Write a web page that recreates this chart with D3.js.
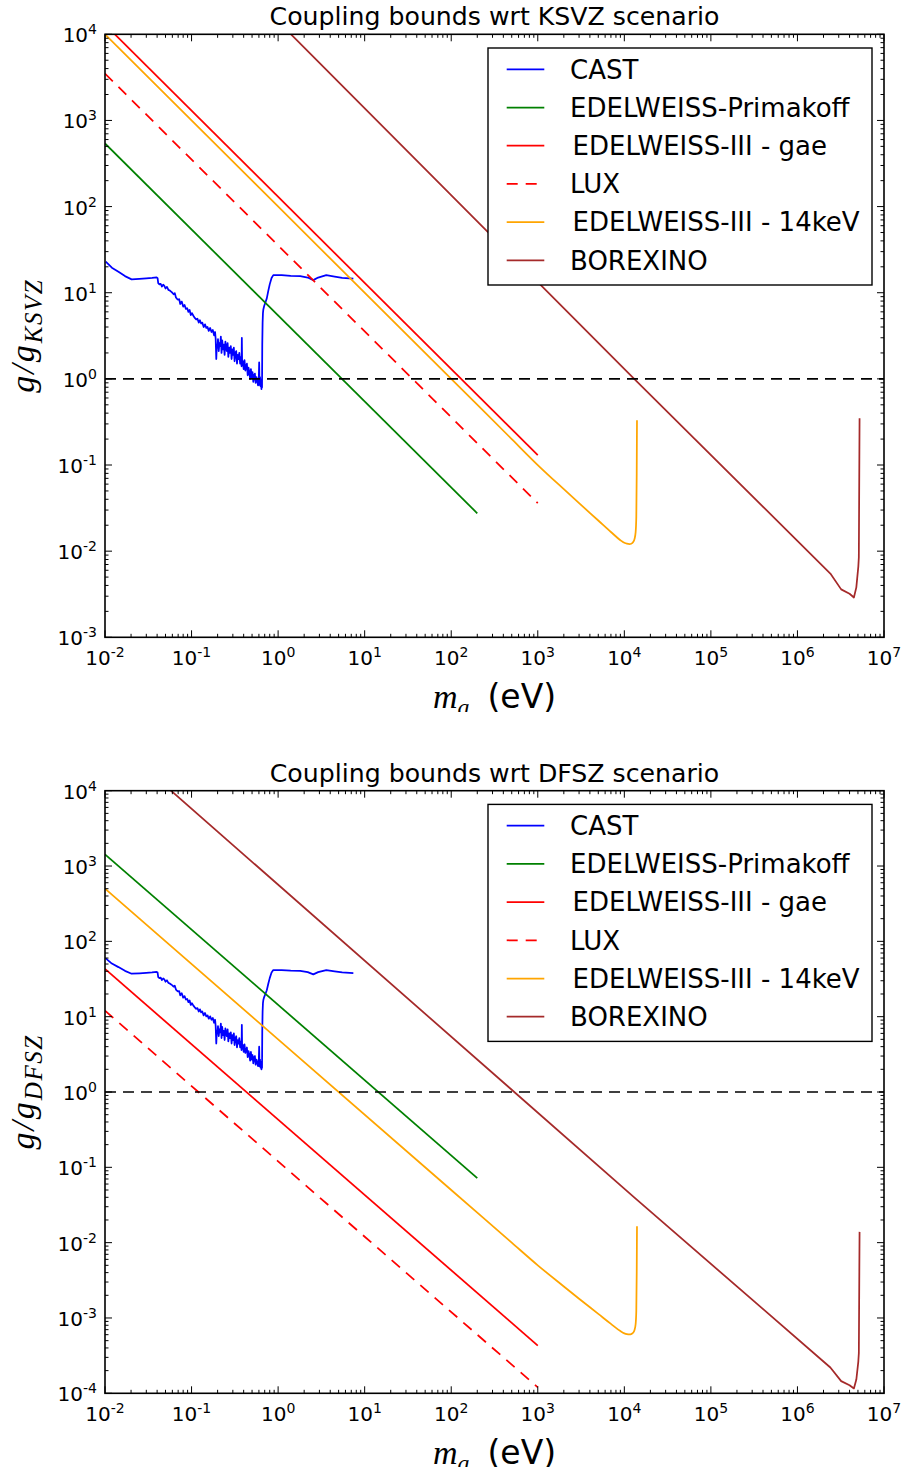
<!DOCTYPE html>
<html>
<head>
<meta charset="utf-8">
<script src="https://cdn.jsdelivr.net/npm/d3@7"></script>
<style>
  body { margin: 0; background: #fff; }
  svg { display: block; }
  text { font-family: 'DejaVu Sans', sans-serif; fill: #000; }
</style>
</head>
<body>
<svg width="902" height="1474"></svg>
<script>
// axion mass (eV) and coupling ratio data
const xTickExps = [-2, -1, 0, 1, 2, 3, 4, 5, 6, 7]
const yTickExpsKsvz = [-3, -2, -1, 0, 1, 2, 3, 4]
const yTickExpsDfsz = [-4, -3, -2, -1, 0, 1, 2, 3, 4]

const seriesNames = ['CAST', 'EDELWEISS-Primakoff', 'EDELWEISS-III - gae', 'LUX', 'EDELWEISS-III - 14keV', 'BOREXINO']
const seriesColors = ['#0000ff', '#008000', '#ff0000', '#ff0000', '#ffa500', '#a52a2a']

const castMass = [
  // flat start
  0.0102, 0.012, 0.0143, 0.017, 0.0203, 0.025, 0.03, 0.035, 0.0395, 0.0405,
  // slow decline
  0.0412, 0.0425, 0.044, 0.0455, 0.047, 0.0485, 0.050, 0.052, 0.054, 0.056,
  0.058, 0.060, 0.062, 0.064, 0.066, 0.068, 0.070, 0.072, 0.074, 0.077,
  0.080, 0.083, 0.086, 0.089, 0.092, 0.095, 0.098, 0.101, 0.105, 0.109,
  0.113, 0.117, 0.121, 0.125, 0.129, 0.133, 0.138, 0.143, 0.148, 0.153,
  0.158, 0.164, 0.170, 0.176, 0.182, 0.187,
  // noisy band
  0.190, 0.193, 0.196, 0.199, 0.202, 0.206, 0.210, 0.214, 0.218, 0.222,
  0.226, 0.231, 0.236, 0.241, 0.246, 0.251, 0.256, 0.261, 0.266, 0.272,
  0.278, 0.284, 0.290, 0.296, 0.302, 0.308, 0.314, 0.321, 0.328, 0.335,
  0.342, 0.349, 0.356, 0.364, 0.372, 0.378, 0.381, 0.384, 0.392, 0.400,
  0.409, 0.418, 0.427, 0.436, 0.445, 0.455, 0.465, 0.475, 0.485, 0.495,
  0.506, 0.517, 0.528, 0.539, 0.550, 0.562, 0.574, 0.586, 0.598, 0.604,
  0.610, 0.618, 0.626, 0.634, 0.642, 0.648, 0.652,
  // jump
  0.656, 0.662, 0.668, 0.675, 0.690, 0.710, 0.740, 0.770, 0.800, 0.840, 0.880,
  // tail
  1.1, 1.4, 1.8, 2.2, 2.55, 2.9, 3.6, 4.5, 5.5, 7.4
]
const castKsvz = [
  22.9, 19.5, 17.5, 15.6, 14.3, 14.5, 14.7, 14.9, 15.1, 14.8,
  12.9, 12.5, 12.7, 11.8, 12.4, 12.0, 11.2, 11.7, 10.8, 10.6,
  10.3, 10.0, 9.6, 9.9, 8.8, 8.5, 8.3, 8.4, 7.4, 7.9,
  6.9, 7.2, 6.5, 6.6, 6.0, 6.3, 5.5, 5.8, 5.4, 5.1,
  4.9, 5.0, 4.5, 4.8, 4.4, 4.5, 4.0, 4.3, 3.9, 4.0,
  3.6, 3.9, 3.5, 3.7, 3.2, 3.5,
  2.9, 1.7, 2.5, 2.3, 2.9, 2.1, 2.6, 2.4, 3.1, 2.0,
  2.8, 2.2, 2.5, 1.9, 2.7, 2.3, 2.1, 2.6, 1.8, 2.3,
  2.0, 2.4, 1.7, 2.2, 1.9, 2.3, 1.6, 2.0, 2.1, 1.5,
  1.9, 1.7, 2.0, 1.5, 1.8, 1.4, 3.0, 1.5, 1.6, 1.3,
  1.65, 1.25, 1.4, 1.5, 1.1, 1.35, 1.2, 1.0, 1.3, 1.05,
  1.2, 0.92, 1.1, 1.15, 0.9, 1.05, 0.95, 0.84, 1.0, 1.55,
  0.85, 1.05, 0.82, 0.98, 0.76, 0.92, 0.8,
  2.5, 4.5, 5.8, 6.4, 7.0, 7.6, 8.6, 10.5, 12.5, 14.8, 16.0,
  16.0, 15.7, 15.6, 15.0, 14.0, 15.0, 16.0, 15.4, 14.9, 14.6
]
const castDfsz = [
  59.5, 50.7, 45.5, 40.6, 37.2, 37.7, 38.2, 38.7, 39.3, 38.5,
  33.5, 32.5, 33.0, 30.7, 32.2, 31.2, 29.1, 30.4, 28.1, 27.6,
  26.8, 26.0, 25.0, 25.7, 22.9, 22.1, 21.6, 21.8, 19.2, 20.5,
  17.9, 18.7, 16.9, 17.2, 15.6, 16.4, 14.3, 15.1, 14.0, 13.3,
  12.7, 13.0, 11.7, 12.5, 11.4, 11.7, 10.4, 11.2, 10.1, 10.4,
  9.4, 10.1, 9.1, 9.6, 8.3, 9.1,
  7.5, 4.4, 6.5, 6.0, 7.5, 5.5, 6.8, 6.2, 8.1, 5.2,
  7.3, 5.7, 6.5, 4.9, 7.0, 6.0, 5.5, 6.8, 4.7, 6.0,
  5.2, 6.2, 4.4, 5.7, 4.9, 6.0, 4.2, 5.2, 5.5, 3.9,
  4.9, 4.4, 5.2, 3.9, 4.7, 3.6, 7.8, 3.9, 4.2, 3.4,
  4.3, 3.3, 3.6, 3.9, 2.9, 3.5, 3.1, 2.6, 3.4, 2.7,
  3.1, 2.4, 2.9, 3.0, 2.3, 2.7, 2.5, 2.2, 2.6, 4.0,
  2.2, 2.7, 2.1, 2.5, 2.0, 2.4, 2.1,
  6.5, 11.7, 15.1, 16.6, 18.2, 19.8, 22.4, 27.3, 32.5, 38.5, 41.6,
  41.6, 40.8, 40.6, 39.0, 36.4, 39.0, 41.6, 40.0, 38.7, 38.0
]

const primakoffMass = [0.01, 200]
const primakoffKsvz = [540, 0.0275]
const primakoffDfsz = [1430, 0.072]

const gaeMass = [0.01, 1000]
const gaeKsvz = [13000, 0.13]
const gaeDfsz = [43, 0.00043]

const luxMass = [0.01, 1000]
const luxKsvz = [3500, 0.036]
const luxDfsz = [12, 0.00012]

const kev14Mass = [0.01, 100, 500, 1000, 2000, 3000, 5000, 7000, 9000, 1.0e4, 1.07e4, 1.15e4, 1.2e4, 1.26e4, 1.31e4, 1.35e4, 1.375e4, 1.39e4, 1.40e4]
const kev14Ksvz = [10000, 1.0, 0.2, 0.1, 0.0524, 0.0361, 0.0227, 0.0167, 0.0134, 0.0125, 0.0122, 0.0121, 0.0122, 0.0127, 0.0138, 0.0165, 0.025, 0.08, 0.33]
const kev14Dfsz = [500, 0.05, 0.01, 0.005, 0.00262, 0.0018, 0.001135, 0.000835, 0.00067, 0.000625, 0.00061, 0.000605, 0.00061, 0.000635, 0.00069, 0.000825, 0.00125, 0.004, 0.0165]

const borexinoMass = [0.05, 1.3e4, 2.4e6, 3.2e6, 4.0e6, 4.49e6, 4.79e6, 5.05e6, 5.12e6, 5.22e6]
const borexinoKsvz = [2.9e5, 1.0, 0.0055, 0.0036, 0.0032, 0.0029, 0.0038, 0.0066, 0.0085, 0.35]
const borexinoDfsz = [11600, 0.04, 0.00022, 0.000145, 0.000128, 0.000116, 0.000152, 0.000264, 0.00034, 0.0139]

const svg = d3.select('svg')
const x = d3.scaleLog().domain([1e-2, 1e7]).range([105, 884])

const panels = [
  {
    title: 'Coupling bounds wrt KSVZ scenario', sub: 'KSVZ',
    top: 34.3, bottom: 637.3, yExps: yTickExpsKsvz, clip: [0, 712],
    values: [castKsvz, primakoffKsvz, gaeKsvz, luxKsvz, kev14Ksvz, borexinoKsvz]
  },
  {
    title: 'Coupling bounds wrt DFSZ scenario', sub: 'DFSZ',
    top: 790.7, bottom: 1393.3, yExps: yTickExpsDfsz, clip: [740, 1467],
    values: [castDfsz, primakoffDfsz, gaeDfsz, luxDfsz, kev14Dfsz, borexinoDfsz]
  }
]
const masses = [castMass, primakoffMass, gaeMass, luxMass, kev14Mass, borexinoMass]
const dashes = [null, null, null, '11,8', null, null]
const curves = [d3.curveLinear, d3.curveLinear, d3.curveLinear, d3.curveLinear, d3.curveMonotoneX, d3.curveLinear]
const legendIndent = [0, 0, 2.5, 0, 2.5, 0]

panels.forEach(function (p, i) { drawPanel(p, i) })

function drawPanel (p, i) {
  let y = d3.scaleLog()
    .domain([Math.pow(10, p.yExps[0]), Math.pow(10, p.yExps[p.yExps.length - 1])])
    .range([p.bottom, p.top])
  let left = x.range()[0]
  let right = x.range()[1]

  svg.append('clipPath').attr('id', 'fig' + i)
    .append('rect').attr('x', 0).attr('y', p.clip[0])
    .attr('width', 902).attr('height', p.clip[1] - p.clip[0])
  svg.append('clipPath').attr('id', 'plot' + i)
    .append('rect').attr('x', left).attr('y', p.top)
    .attr('width', right - left).attr('height', p.bottom - p.top)

  let fig = svg.append('g').attr('clip-path', 'url(#fig' + i + ')')

  // curves
  let plot = fig.append('g').attr('clip-path', 'url(#plot' + i + ')')
  masses.forEach(function (m, k) {
    let line = d3.line()
      .x(function (d) { return x(d[0]) })
      .y(function (d) { return y(d[1]) })
      .curve(curves[k])
    plot.append('path')
      .attr('d', line(d3.zip(m, p.values[k])))
      .attr('fill', 'none')
      .attr('stroke', seriesColors[k])
      .attr('stroke-width', 1.75)
      .attr('stroke-dasharray', dashes[k])
      .attr('stroke-linejoin', 'round')
  })
  plot.append('line')
    .attr('x1', left).attr('x2', right)
    .attr('y1', y(1)).attr('y2', y(1))
    .attr('stroke', '#000').attr('stroke-width', 1.6)
    .attr('stroke-dasharray', '11,7')

  // ticks, inward on all four sides
  let ticks = fig.append('g').attr('stroke', '#000').attr('stroke-width', 1)
  xTickExps.forEach(function (e) {
    let v = Math.pow(10, e)
    let subs = e < xTickExps[xTickExps.length - 1] ? [1, 2, 3, 4, 5, 6, 7, 8, 9] : [1]
    subs.forEach(function (s) {
      let px = x(s * v)
      let len = s === 1 ? 7 : 3.5
      ticks.append('line').attr('x1', px).attr('x2', px).attr('y1', p.bottom).attr('y2', p.bottom - len)
      ticks.append('line').attr('x1', px).attr('x2', px).attr('y1', p.top).attr('y2', p.top + len)
    })
    let t = fig.append('text')
      .attr('x', x(v)).attr('y', p.bottom + 28)
      .attr('text-anchor', 'middle')
      .style('font-size', '20px')
    t.append('tspan').text('10')
    t.append('tspan').attr('dy', -8).style('font-size', '14px').text(e)
  })
  p.yExps.forEach(function (e) {
    let v = Math.pow(10, e)
    let subs = e < p.yExps[p.yExps.length - 1] ? [1, 2, 3, 4, 5, 6, 7, 8, 9] : [1]
    subs.forEach(function (s) {
      let py = y(s * v)
      let len = s === 1 ? 7 : 3.5
      ticks.append('line').attr('y1', py).attr('y2', py).attr('x1', left).attr('x2', left + len)
      ticks.append('line').attr('y1', py).attr('y2', py).attr('x1', right).attr('x2', right - len)
    })
    let t = fig.append('text')
      .attr('x', 97).attr('y', y(v) + 8)
      .attr('text-anchor', 'end')
      .style('font-size', '20px')
    t.append('tspan').text('10')
    t.append('tspan').attr('dy', -8).style('font-size', '14px').text(e)
  })

  // frame
  fig.append('rect')
    .attr('x', left).attr('y', p.top)
    .attr('width', right - left).attr('height', p.bottom - p.top)
    .attr('fill', 'none').attr('stroke', '#000').attr('stroke-width', 1.6)

  // title and axis labels
  fig.append('text')
    .attr('x', (left + right) / 2).attr('y', p.top - 9)
    .attr('text-anchor', 'middle')
    .style('font-size', '25.2px')
    .text(p.title)

  let xl = fig.append('text')
    .attr('x', (left + right) / 2).attr('y', p.bottom + 70.5)
    .attr('text-anchor', 'middle')
    .style('font-size', '33px')
  xl.append('tspan').style('font-family', 'Liberation Serif').style('font-style', 'italic')
    .style('font-size', '34px').text('m')
  xl.append('tspan').attr('dy', 7).style('font-family', 'Liberation Serif').style('font-style', 'italic')
    .style('font-size', '24px').text('a')
  xl.append('tspan').attr('dy', -7).attr('dx', 18).text('(eV)')

  let yl = fig.append('text')
    .attr('transform', 'translate(34,' + ((p.top + p.bottom) / 2) + ') rotate(-90)')
    .attr('text-anchor', 'middle')
    .style('font-family', 'Liberation Serif')
    .style('font-style', 'italic')
    .style('font-size', '34px')
  yl.append('tspan').style('letter-spacing', '2px').text('g/g')
  yl.append('tspan').attr('dy', 8).style('font-size', '25px').style('letter-spacing', '1.5px').text(p.sub)

  // legend
  let lg = fig.append('g').attr('transform', 'translate(488,' + (p.top + 13.7) + ')')
  lg.append('rect')
    .attr('width', 384).attr('height', 237)
    .attr('fill', '#fff').attr('stroke', '#000').attr('stroke-width', 1.4)
  seriesNames.forEach(function (name, k) {
    let ly = 21.3 + k * 38.2
    lg.append('line')
      .attr('x1', 18.7).attr('x2', 56.3).attr('y1', ly).attr('y2', ly)
      .attr('stroke', seriesColors[k]).attr('stroke-width', 1.75)
      .attr('stroke-dasharray', dashes[k])
    lg.append('text')
      .attr('x', 82 + legendIndent[k]).attr('y', ly + 9.3)
      .style('font-size', '26px')
      .text(name)
  })
}
</script>
</body>
</html>
